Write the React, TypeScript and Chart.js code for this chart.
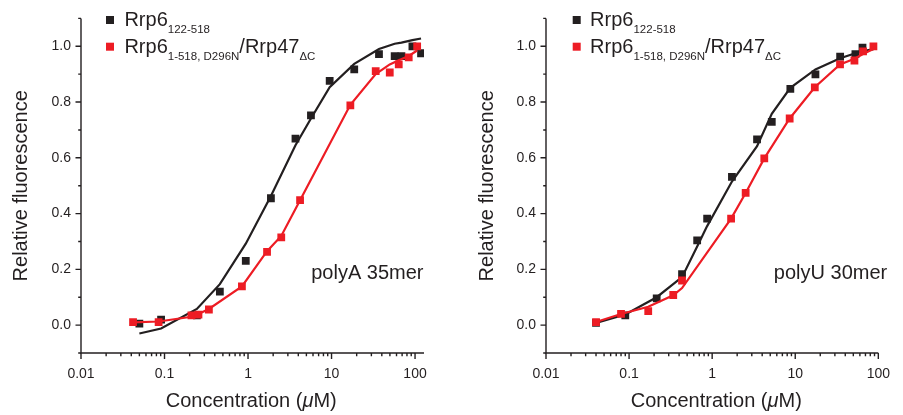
import React, { useEffect, useRef } from 'react';
import { Chart, registerables } from 'chart.js';

Chart.register(...registerables);

const FONT = '"Liberation Sans", Arial, Helvetica, sans-serif';
const INK = '#231f20';
const RED = '#ed1c24';

// ---------- polyA 35mer ----------
const polyA_rrp6_conc = [0.05, 0.091, 0.244, 0.46, 0.94, 1.88, 3.7, 5.67, 9.5, 18.7, 37, 57, 68.7, 93, 118];
const polyA_rrp6_signal = [0.005, 0.02, 0.035, 0.12, 0.23, 0.455, 0.669, 0.752, 0.876, 0.917, 0.972, 0.965, 0.965, 1.0, 0.975];
const polyA_rrp6_fit_conc = [0.05, 0.091, 0.244, 0.46, 0.94, 1.88, 3.7, 5.67, 9.5, 18.7, 37, 57, 68.7, 93, 118];
const polyA_rrp6_fit = [-0.03, -0.012, 0.058, 0.147, 0.292, 0.463, 0.645, 0.741, 0.853, 0.937, 0.99, 1.009, 1.013, 1.022, 1.028];

const polyA_complex_conc = [0.042, 0.085, 0.21, 0.255, 0.34, 0.845, 1.69, 2.5, 4.2, 16.8, 33.8, 49.8, 63.8, 84, 106];
const polyA_complex_signal = [0.011, 0.011, 0.035, 0.038, 0.056, 0.139, 0.263, 0.315, 0.448, 0.788, 0.911, 0.906, 0.935, 0.96, 1.0];
const polyA_complex_fit_conc = [0.042, 0.085, 0.21, 0.255, 0.34, 0.845, 1.69, 2.5, 4.2, 16.8, 33.8, 49.8, 63.8, 84, 106];
const polyA_complex_fit = [0.01, 0.013, 0.03, 0.04, 0.058, 0.139, 0.265, 0.32, 0.448, 0.79, 0.9, 0.935, 0.95, 0.965, 0.985];

// ---------- polyU 30mer ----------
const polyU_rrp6_conc = [0.04, 0.09, 0.215, 0.434, 0.66, 0.87, 1.73, 3.47, 5.22, 8.73, 17.5, 34.7, 53, 64.5];
const polyU_rrp6_signal = [0.008, 0.035, 0.096, 0.183, 0.304, 0.382, 0.532, 0.666, 0.729, 0.847, 0.899, 0.963, 0.972, 0.995];
const polyU_rrp6_fit_conc = [0.04, 0.09, 0.215, 0.434, 0.66, 0.87, 1.73, 3.47, 5.22, 8.73, 17.5, 34.7, 53, 64.5, 87.3];
const polyU_rrp6_fit = [0.008, 0.038, 0.1, 0.172, 0.282, 0.355, 0.515, 0.642, 0.758, 0.851, 0.917, 0.957, 0.975, 0.982, 0.99];

const polyU_complex_conc = [0.04, 0.08, 0.17, 0.34, 0.434, 1.69, 2.53, 4.24, 8.57, 17.2, 34.6, 51.6, 65.5, 87.3];
const polyU_complex_signal = [0.011, 0.04, 0.05, 0.108, 0.16, 0.382, 0.474, 0.598, 0.741, 0.853, 0.935, 0.949, 0.982, 1.0];
const polyU_complex_fit_conc = [0.04, 0.08, 0.17, 0.34, 0.434, 1.69, 2.53, 4.24, 8.57, 17.2, 34.6, 51.6, 65.5, 87.3];
const polyU_complex_fit = [0.011, 0.04, 0.066, 0.107, 0.133, 0.382, 0.474, 0.598, 0.741, 0.853, 0.935, 0.955, 0.972, 0.99];

// ---------- axes ----------
const X_DECADES = [0.01, 0.1, 1, 10, 100];
const X_DECADE_LABELS = ['0.01', '0.1', '1', '10', '100'];
const Y_MIN = -0.1;
const Y_MAX = 1.1;
const Y_TICK_TENTHS = [-1, 0, 1, 2, 3, 4, 5, 6, 7, 8, 9, 10, 11];

const Y_TITLE = 'Relative fluorescence';
const X_TITLE_RUNS = [
  { text: 'Concentration (', italic: false },
  { text: 'μ', italic: true },
  { text: 'M)', italic: false },
];
const SERIES1_MAIN = 'Rrp6';
const SERIES1_SUB = '122-518';
const SERIES2_MAIN = 'Rrp6';
const SERIES2_SUB = '1-518, D296N';
const SERIES2_MAIN2 = '/Rrp47';
const SERIES2_SUB2 = 'ΔC';

const zip = (xs: number[], ys: number[]) => xs.map((x, i) => ({ x, y: ys[i] }));

type Panel = {
  left: number;
  width: number;
  yAxisWidth: number;
  padRight: number;
  xMax: number;
  label: string;
  labelRight: number;
  labelBaseline: number;
  yTitleX: number;
  xTitleX: number;
  legendSquareX: number;
  legendTextX: number;
  black: { conc: number[]; signal: number[]; fitConc: number[]; fit: number[] };
  red: { conc: number[]; signal: number[]; fitConc: number[]; fit: number[] };
};

const PANELS: Panel[] = [
  {
    left: 0,
    width: 451,
    yAxisWidth: 81,
    padRight: 27,
    xMax: 128,
    label: 'polyA 35mer',
    labelRight: 423.5,
    labelBaseline: 279,
    yTitleX: 27.3,
    xTitleX: 251.2,
    legendSquareX: 110,
    legendTextX: 124.4,
    black: { conc: polyA_rrp6_conc, signal: polyA_rrp6_signal, fitConc: polyA_rrp6_fit_conc, fit: polyA_rrp6_fit },
    red: { conc: polyA_complex_conc, signal: polyA_complex_signal, fitConc: polyA_complex_fit_conc, fit: polyA_complex_fit },
  },
  {
    left: 451,
    width: 452,
    yAxisWidth: 95,
    padRight: 16,
    xMax: 100,
    label: 'polyU 30mer',
    labelRight: 436.2,
    labelBaseline: 279,
    yTitleX: 42.3,
    xTitleX: 265.3,
    legendSquareX: 125.7,
    legendTextX: 139.1,
    black: { conc: polyU_rrp6_conc, signal: polyU_rrp6_signal, fitConc: polyU_rrp6_fit_conc, fit: polyU_rrp6_fit },
    red: { conc: polyU_complex_conc, signal: polyU_complex_signal, fitConc: polyU_complex_fit_conc, fit: polyU_complex_fit },
  },
];

type Run = { text: string; font: string; dy?: number };

function drawRuns(ctx: CanvasRenderingContext2D, runs: Run[], x: number, y: number) {
  let cx = x;
  for (const r of runs) {
    ctx.font = r.font;
    ctx.fillText(r.text, cx, y + (r.dy || 0));
    cx += ctx.measureText(r.text).width;
  }
  return cx;
}

function runsWidth(ctx: CanvasRenderingContext2D, runs: Run[]) {
  let w = 0;
  for (const r of runs) {
    ctx.font = r.font;
    w += ctx.measureText(r.text).width;
  }
  return w;
}

function makeDecorPlugin(p: Panel) {
  return {
    id: 'decor',
    afterDraw(chart: any) {
      const ctx: CanvasRenderingContext2D = chart.ctx;
      const area = chart.chartArea;
      const xs = chart.scales.x;
      const ys = chart.scales.y;
      ctx.save();
      // axes
      ctx.strokeStyle = INK;
      ctx.lineWidth = 1.4;
      ctx.lineCap = 'butt';
      ctx.beginPath();
      ctx.moveTo(area.left, area.top);
      ctx.lineTo(area.left, area.bottom + 0.7);
      ctx.moveTo(area.left - 0.7, area.bottom);
      ctx.lineTo(area.right, area.bottom);
      ctx.stroke();
      // y ticks
      ctx.beginPath();
      for (const t of Y_TICK_TENTHS) {
        const py = ys.getPixelForValue(t / 10);
        const len = t % 2 === 0 ? 5.5 : 2.8;
        ctx.moveTo(area.left, py);
        ctx.lineTo(area.left - len, py);
      }
      // x ticks
      for (const d of X_DECADES) {
        for (let m = 1; m <= 9; m++) {
          const v = d * m;
          if (v > p.xMax * 1.0001) continue;
          const px = xs.getPixelForValue(v);
          const len = m === 1 ? 6 : 3.2;
          ctx.moveTo(px, area.bottom);
          ctx.lineTo(px, area.bottom + len);
        }
      }
      ctx.stroke();

      ctx.fillStyle = INK;
      ctx.textAlign = 'left';
      ctx.textBaseline = 'alphabetic';

      // y title
      ctx.save();
      ctx.translate(p.yTitleX, 185.8);
      ctx.rotate(-Math.PI / 2);
      ctx.font = `20px ${FONT}`;
      ctx.textAlign = 'center';
      ctx.fillText(Y_TITLE, 0, 0);
      ctx.restore();

      // x title
      const xRuns: Run[] = X_TITLE_RUNS.map((r) => ({
        text: r.text,
        font: `${r.italic ? 'italic ' : ''}20px ${FONT}`,
      }));
      const w = runsWidth(ctx, xRuns);
      drawRuns(ctx, xRuns, p.xTitleX - w / 2, 407.3);

      // panel label
      ctx.font = `20px ${FONT}`;
      ctx.textAlign = 'right';
      ctx.fillText(p.label, p.labelRight, p.labelBaseline);
      ctx.textAlign = 'left';

      // legend
      ctx.fillStyle = INK;
      ctx.fillRect(p.legendSquareX - 4, 20 - 4, 8, 8);
      ctx.fillStyle = RED;
      ctx.fillRect(p.legendSquareX - 4, 46.7 - 4, 8, 8);
      ctx.fillStyle = INK;
      const main = `20px ${FONT}`;
      const sub = `11.5px ${FONT}`;
      drawRuns(ctx, [
        { text: SERIES1_MAIN, font: main },
        { text: SERIES1_SUB, font: sub, dy: 6.5 },
      ], p.legendTextX, 26.2);
      drawRuns(ctx, [
        { text: SERIES2_MAIN, font: main },
        { text: SERIES2_SUB, font: sub, dy: 7 },
        { text: SERIES2_MAIN2, font: main },
        { text: SERIES2_SUB2, font: sub, dy: 7 },
      ], p.legendTextX, 52.8);
      ctx.restore();
    },
  };
}

function PanelChart({ p }: { p: Panel }) {
  const ref = useRef<HTMLCanvasElement | null>(null);
  useEffect(() => {
    if (!ref.current) return;
    const xTickValues: number[] = [];
    for (const d of X_DECADES) {
      for (let m = 1; m <= 9; m++) {
        const v = d * m;
        if (v <= p.xMax * 1.0001) xTickValues.push(v);
      }
    }
    const chart = new Chart(ref.current, {
      type: 'scatter',
      data: {
        datasets: [
          {
            data: zip(p.red.conc, p.red.signal),
            pointStyle: 'rect',
            pointRadius: 5.5,
            pointBackgroundColor: RED,
            pointBorderWidth: 0,
            borderColor: RED,
            showLine: false,
          },
          {
            data: zip(p.red.fitConc, p.red.fit),
            showLine: true,
            borderColor: RED,
            borderWidth: 2.2,
            pointRadius: 0,
            tension: 0,
          },
          {
            data: zip(p.black.conc, p.black.signal),
            pointStyle: 'rect',
            pointRadius: 5.5,
            pointBackgroundColor: INK,
            pointBorderWidth: 0,
            borderColor: INK,
            showLine: false,
          },
          {
            data: zip(p.black.fitConc, p.black.fit),
            showLine: true,
            borderColor: INK,
            borderWidth: 2.2,
            pointRadius: 0,
            tension: 0,
          },
        ],
      } as any,
      options: {
        animation: false,
        responsive: false,
        maintainAspectRatio: false,
        devicePixelRatio: 1,
        events: [],
        layout: { padding: { left: 0, right: p.padRight, top: 7, bottom: 0 } },
        plugins: { legend: { display: false }, tooltip: { enabled: false } },
        scales: {
          x: {
            type: 'logarithmic',
            min: 0.01,
            max: p.xMax,
            grid: { display: false, drawTicks: false, tickLength: 0 },
            border: { display: false },
            afterBuildTicks: (s: any) => {
              s.ticks = xTickValues.map((v) => ({ value: v }));
            },
            afterFit: (s: any) => {
              s.height = 62;
            },
            ticks: {
              autoSkip: false,
              maxRotation: 0,
              padding: 13,
              color: INK,
              font: { family: FONT, size: 14 },
              callback: (v: any) => {
                const i = X_DECADES.findIndex((d) => Math.abs(d - v) / d < 1e-6);
                return i >= 0 ? X_DECADE_LABELS[i] : '';
              },
            },
          },
          y: {
            type: 'linear',
            min: Y_MIN,
            max: Y_MAX,
            grid: { display: false, drawTicks: false, tickLength: 0 },
            border: { display: false },
            afterBuildTicks: (s: any) => {
              s.ticks = Y_TICK_TENTHS.map((t) => ({ value: t / 10 }));
            },
            afterFit: (s: any) => {
              s.width = p.yAxisWidth;
            },
            ticks: {
              autoSkip: false,
              padding: 10,
              color: INK,
              font: { family: FONT, size: 14 },
              callback: (v: any) => {
                const k = Math.round(Number(v) * 10);
                return k % 2 === 0 && k >= 0 && k <= 10 ? (k / 10).toFixed(1) : '';
              },
            },
          },
        },
      } as any,
      plugins: [makeDecorPlugin(p)],
    });
    return () => chart.destroy();
  }, [p]);
  return (
    <canvas
      ref={ref}
      width={p.width}
      height={415}
      style={{ position: 'absolute', left: p.left, top: 0, width: p.width, height: 415, display: 'block' }}
    />
  );
}

export default function App() {
  return (
    <div style={{ position: 'absolute', left: 0, top: 0, width: 903, height: 415, background: '#ffffff' }}>
      {PANELS.map((p, i) => (
        <PanelChart key={i} p={p} />
      ))}
    </div>
  );
}
